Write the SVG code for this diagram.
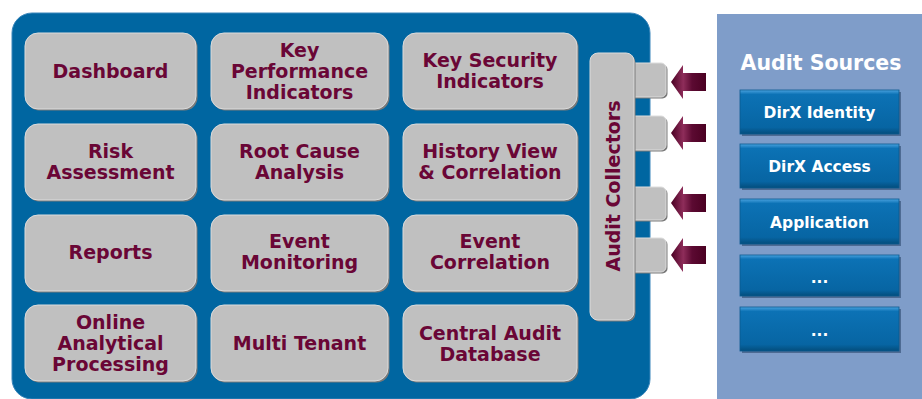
<svg xmlns="http://www.w3.org/2000/svg" width="922" height="399" viewBox="0 0 922 399">
<defs>
<linearGradient id="srcGrad" x1="0" y1="0" x2="0" y2="1">
<stop offset="0" stop-color="#4aa3e0"/>
<stop offset="0.1" stop-color="#0c72b5"/>
<stop offset="0.85" stop-color="#0765a3"/>
<stop offset="1" stop-color="#034d7c"/>
</linearGradient>
<linearGradient id="arrGrad" x1="0" y1="0" x2="1" y2="0">
<stop offset="0" stop-color="#4a0022"/>
<stop offset="0.35" stop-color="#8e2d5a"/>
<stop offset="0.6" stop-color="#5c0a32"/>
<stop offset="1" stop-color="#4a0022"/>
</linearGradient>
<style>
.gbox{fill:#c0c0c0;stroke:#dcdcdc;stroke-width:1}
.gsh{fill:#7a7a7a}
.gt{font-family:"DejaVu Sans",Verdana,sans-serif;font-weight:bold;font-size:19px;fill:#6a0636;text-anchor:middle}
.sbox{fill:url(#srcGrad);stroke:#0a5a90;stroke-width:0.8}
.ssh{fill:#2d4a70;opacity:0.6}
.st{font-family:"DejaVu Sans",Verdana,sans-serif;font-weight:bold;font-size:15.5px;fill:#ffffff;text-anchor:middle}
.arr{fill:url(#arrGrad)}
</style>
</defs>
<rect x="12" y="13" width="638" height="386" rx="20" fill="#0066a1" stroke="#3a86bb" stroke-width="1"/>
<rect x="717" y="14" width="205" height="385" fill="#7f9dc9"/>
<text x="821" y="70" font-family="DejaVu Sans,Verdana,sans-serif" font-weight="bold" font-size="20.5" fill="#ffffff" text-anchor="middle">Audit Sources</text>

<g id="dashboard"><rect class="gsh" x="26.5" y="34.5" width="171" height="76" rx="13"/><rect class="gbox" x="25" y="33" width="171" height="76" rx="13"/><text class="gt" x="110.5" y="78">Dashboard</text></g>
<g id="kpi"><rect class="gsh" x="212.5" y="34.5" width="177" height="76" rx="13"/><rect class="gbox" x="211" y="33" width="177" height="76" rx="13"/><text class="gt" x="299.5" y="57">Key</text><text class="gt" x="299.5" y="78">Performance</text><text class="gt" x="299.5" y="99">Indicators</text></g>
<g id="ksi"><rect class="gsh" x="404.5" y="34.5" width="174" height="76" rx="13"/><rect class="gbox" x="403" y="33" width="174" height="76" rx="13"/><text class="gt" x="490" y="67">Key Security</text><text class="gt" x="490" y="88">Indicators</text></g>

<g id="risk"><rect class="gsh" x="26.5" y="125.5" width="171" height="76" rx="13"/><rect class="gbox" x="25" y="124" width="171" height="76" rx="13"/><text class="gt" x="110.5" y="157.5">Risk</text><text class="gt" x="110.5" y="178.5">Assessment</text></g>
<g id="rca"><rect class="gsh" x="212.5" y="125.5" width="177" height="76" rx="13"/><rect class="gbox" x="211" y="124" width="177" height="76" rx="13"/><text class="gt" x="299.5" y="157.5">Root Cause</text><text class="gt" x="299.5" y="178.5">Analysis</text></g>
<g id="history"><rect class="gsh" x="404.5" y="125.5" width="174" height="76" rx="13"/><rect class="gbox" x="403" y="124" width="174" height="76" rx="13"/><text class="gt" x="490" y="157.5">History View</text><text class="gt" x="490" y="178.5">&amp; Correlation</text></g>

<g id="reports"><rect class="gsh" x="26.5" y="216.5" width="171" height="76" rx="13"/><rect class="gbox" x="25" y="215" width="171" height="76" rx="13"/><text class="gt" x="110.5" y="259">Reports</text></g>
<g id="evmon"><rect class="gsh" x="212.5" y="216.5" width="177" height="76" rx="13"/><rect class="gbox" x="211" y="215" width="177" height="76" rx="13"/><text class="gt" x="299.5" y="248">Event</text><text class="gt" x="299.5" y="269">Monitoring</text></g>
<g id="evcor"><rect class="gsh" x="404.5" y="216.5" width="174" height="76" rx="13"/><rect class="gbox" x="403" y="215" width="174" height="76" rx="13"/><text class="gt" x="490" y="248">Event</text><text class="gt" x="490" y="269">Correlation</text></g>

<g id="olap"><rect class="gsh" x="26.5" y="306.5" width="171" height="76" rx="13"/><rect class="gbox" x="25" y="305" width="171" height="76" rx="13"/><text class="gt" x="110.5" y="329">Online</text><text class="gt" x="110.5" y="350">Analytical</text><text class="gt" x="110.5" y="371">Processing</text></g>
<g id="multitenant"><rect class="gsh" x="212.5" y="306.5" width="177" height="76" rx="13"/><rect class="gbox" x="211" y="305" width="177" height="76" rx="13"/><text class="gt" x="299.5" y="350">Multi Tenant</text></g>
<g id="cadb"><rect class="gsh" x="404.5" y="306.5" width="174" height="76" rx="13"/><rect class="gbox" x="403" y="305" width="174" height="76" rx="13"/><text class="gt" x="490" y="339.5">Central Audit</text><text class="gt" x="490" y="360.5">Database</text></g>

<g id="collectors">
<rect class="gsh" x="629.5" y="64.5" width="38" height="34" rx="5"/><rect class="gbox" x="628" y="63" width="38" height="34" rx="5"/>
<rect class="gsh" x="629.5" y="117.5" width="38" height="34" rx="5"/><rect class="gbox" x="628" y="116" width="38" height="34" rx="5"/>
<rect class="gsh" x="629.5" y="188.5" width="38" height="33" rx="5"/><rect class="gbox" x="628" y="187" width="38" height="33" rx="5"/>
<rect class="gsh" x="629.5" y="239.5" width="38" height="34" rx="5"/><rect class="gbox" x="628" y="238" width="38" height="34" rx="5"/>
<rect class="gsh" x="591.5" y="54.5" width="44" height="267" rx="8"/><rect class="gbox" x="590" y="53" width="44" height="267" rx="8"/>
<text class="gt" transform="translate(620 186) rotate(-90)" x="0" y="0" font-size="21">Audit Collectors</text>
</g>

<g id="src1"><rect class="ssh" x="742" y="92" width="159" height="44"/><rect class="sbox" x="740" y="90" width="159" height="44"/><text class="st" x="819.5" y="118">DirX Identity</text></g>
<g id="src2"><rect class="ssh" x="742" y="146" width="159" height="44"/><rect class="sbox" x="740" y="144" width="159" height="44"/><text class="st" x="819.5" y="172">DirX Access</text></g>
<g id="src3"><rect class="ssh" x="742" y="201" width="159" height="45"/><rect class="sbox" x="740" y="199" width="159" height="45"/><text class="st" x="819.5" y="227.5">Application</text></g>
<g id="src4"><rect class="ssh" x="742" y="257" width="159" height="41"/><rect class="sbox" x="740" y="255" width="159" height="41"/><text class="st" x="819.5" y="283" font-weight="normal">...</text></g>
<g id="src5"><rect class="ssh" x="742" y="309" width="159" height="44"/><rect class="sbox" x="740" y="307" width="159" height="44"/><text class="st" x="819.5" y="336" font-weight="normal">...</text></g>

<g id="connectors">
<polygon class="arr" points="671,82 683,65 683,73 706,73 706,91 683,91 683,99"/>
<polygon class="arr" points="671,133 683,116 683,124 706,124 706,142 683,142 683,150"/>
<polygon class="arr" points="671,203 683,186 683,194 706,194 706,212 683,212 683,220"/>
<polygon class="arr" points="671,255 683,238 683,246 706,246 706,264 683,264 683,272"/>
</g>
</svg>
